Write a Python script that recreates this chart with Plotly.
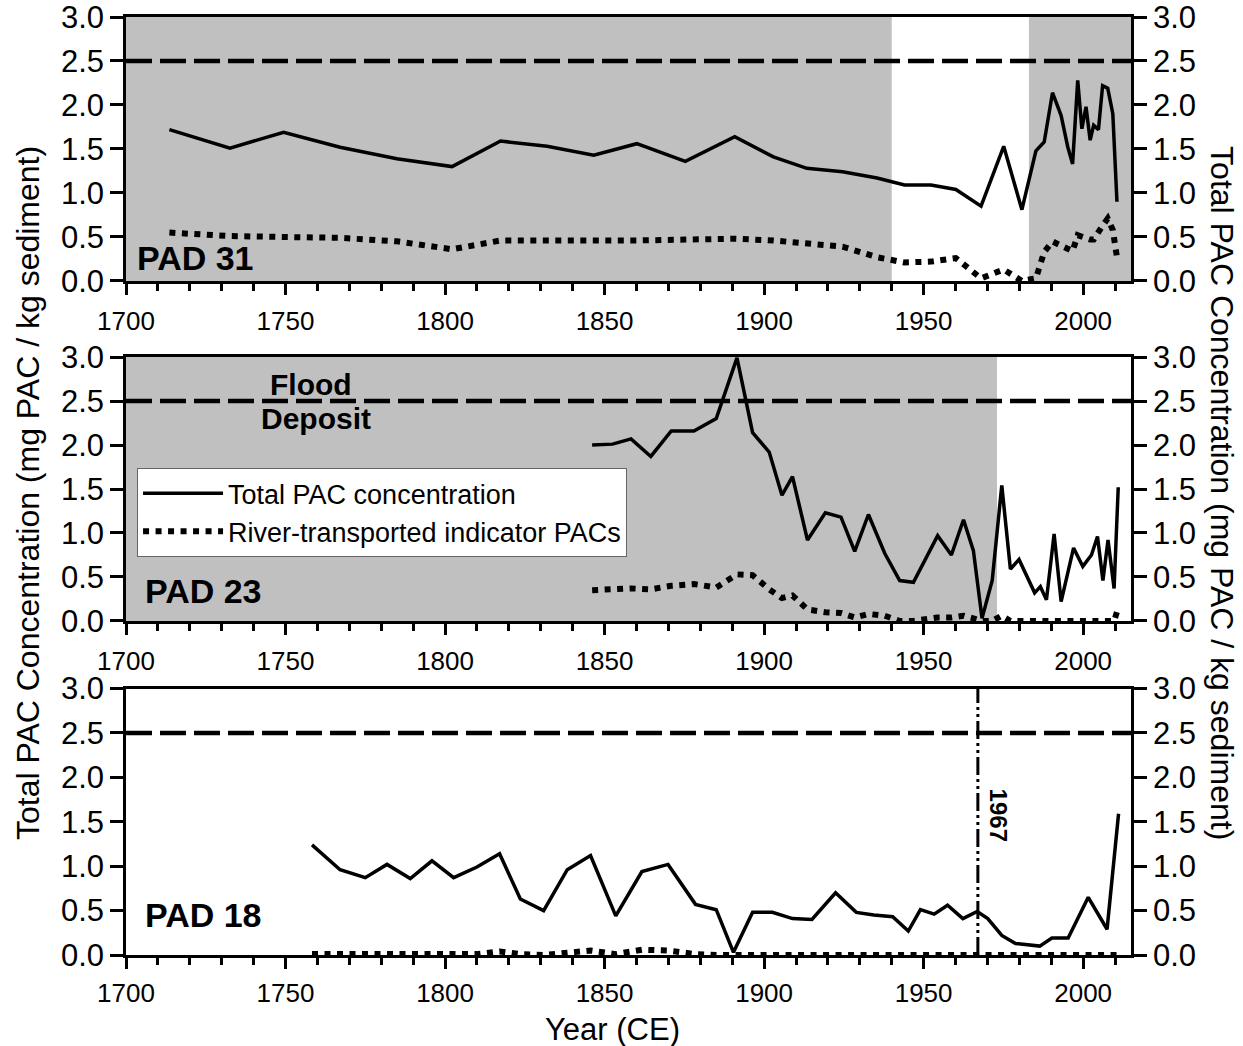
import plotly.graph_objects as go

# ---------------- data ----------------
yr31 = [1713.6, 1732.6, 1749.4, 1767.1, 1784.9, 1802.2, 1817.4, 1832.0, 1846.6, 1860.1,
        1875.3, 1890.8, 1902.9, 1913.4, 1924.6, 1935.4, 1944.0, 1952.3, 1960.1, 1968.0,
        1975.1, 1980.8, 1985.2, 1987.8, 1990.4, 1993.1, 1995.2, 1996.7, 1998.3, 1999.6,
        2000.9, 2002.2, 2003.3, 2004.8, 2006.1, 2007.7, 2009.3, 2010.6]
total31 = [1.72, 1.51, 1.69, 1.52, 1.39, 1.30, 1.59, 1.53, 1.43, 1.56,
           1.36, 1.64, 1.41, 1.28, 1.24, 1.17, 1.09, 1.09, 1.04, 0.85,
           1.53, 0.81, 1.48, 1.58, 2.14, 1.88, 1.52, 1.33, 2.28, 1.73,
           1.98, 1.60, 1.77, 1.72, 2.22, 2.19, 1.90, 0.90]
river31 = [0.55, 0.51, 0.50, 0.49, 0.45, 0.36, 0.46, 0.46, 0.45, 0.46,
           0.47, 0.48, 0.46, 0.43, 0.39, 0.27, 0.21, 0.22, 0.26, 0.03,
           0.13, 0.00, 0.03, 0.33, 0.45, 0.40, 0.36, 0.34, 0.52, 0.50,
           0.48, 0.47, 0.47, 0.57, 0.63, 0.71, 0.58, 0.27]

yr23 = [1846.1, 1852.5, 1858.3, 1864.5, 1870.9, 1878.0, 1885.0, 1891.5, 1896.4, 1901.6,
        1905.6, 1908.9, 1913.6, 1919.2, 1924.1, 1928.4, 1932.7, 1937.8, 1942.5, 1946.8,
        1954.4, 1958.7, 1962.5, 1965.6, 1968.3, 1971.5, 1974.5, 1977.2, 1979.9, 1984.8,
        1986.6, 1988.5, 1990.9, 1993.1, 1997.0, 1999.9, 2002.6, 2004.5, 2006.2, 2007.8,
        2009.7, 2011.0]
total23 = [2.00, 2.01, 2.07, 1.87, 2.16, 2.16, 2.30, 2.99, 2.14, 1.92,
           1.43, 1.64, 0.92, 1.23, 1.18, 0.79, 1.21, 0.77, 0.46, 0.44,
           0.97, 0.75, 1.15, 0.80, 0.03, 0.46, 1.54, 0.59, 0.70, 0.32,
           0.39, 0.24, 0.99, 0.22, 0.83, 0.62, 0.75, 0.96, 0.46, 0.92,
           0.37, 1.52]
river23 = [0.35, 0.36, 0.37, 0.36, 0.40, 0.42, 0.38, 0.53, 0.52, 0.36,
           0.26, 0.29, 0.13, 0.10, 0.09, 0.04, 0.08, 0.06, 0.00, 0.00,
           0.04, 0.04, 0.06, 0.03, 0.00, 0.00, 0.06, 0.00, 0.00, 0.00,
           0.00, 0.00, 0.00, 0.00, 0.00, 0.00, 0.00, 0.00, 0.00, 0.00,
           0.00, 0.15]

yr18 = [1758.3, 1767.1, 1775.0, 1781.8, 1789.1, 1795.9, 1802.7, 1810.0, 1817.1, 1823.6,
        1830.9, 1838.3, 1845.6, 1853.5, 1861.7, 1869.9, 1878.5, 1885.0, 1890.4, 1896.4,
        1902.6, 1908.9, 1915.0, 1922.4, 1928.9, 1934.4, 1940.3, 1945.2, 1949.0, 1953.3,
        1957.5, 1962.3, 1966.8, 1970.1, 1974.5, 1978.8, 1986.4, 1990.2, 1995.3, 2001.6,
        2007.5, 2011.1]
total18 = [1.24, 0.96, 0.87, 1.02, 0.86, 1.06, 0.87, 0.99, 1.14, 0.63,
           0.50, 0.96, 1.12, 0.44, 0.94, 1.02, 0.57, 0.51, 0.03, 0.48,
           0.48, 0.41, 0.40, 0.70, 0.48, 0.45, 0.43, 0.27, 0.51, 0.46,
           0.56, 0.41, 0.49, 0.41, 0.22, 0.13, 0.10, 0.19, 0.19, 0.65,
           0.29, 1.59]
river18 = [0.01, 0.01, 0.01, 0.01, 0.00, 0.01, 0.01, 0.01, 0.04, 0.01,
           0.00, 0.03, 0.05, 0.01, 0.06, 0.05, 0.01, 0.00, 0.00, 0.00,
           0.00, 0.00, 0.00, 0.00, 0.00, 0.00, 0.00, 0.00, 0.00, 0.00,
           0.00, 0.00, 0.00, 0.00, 0.00, 0.00, 0.00, 0.00, 0.00, 0.00,
           0.00, 0.00]

shade31 = [(1700, 1940), (1983, 2015)]
shade23 = [(1700, 1973)]
threshold = 2.5
marker_year18 = 1967
panel_names = ["PAD 31", "PAD 23", "PAD 18"]
series_names = ["Total PAC concentration", "River-transported indicator PACs"]
x_range = [1700, 2015]
y_range = [0, 3]

# ---------------- figure ----------------
FONT = "Liberation Sans, Arial, sans-serif"
fig = go.Figure()

panels = [
    (yr31, total31, river31, "x", "y", "y4"),
    (yr23, total23, river23, "x2", "y2", "y5"),
    (yr18, total18, river18, "x3", "y3", "y6"),
]
SOLID = dict(color="black", width=3.5)
DOTTED = dict(color="black", width=6, dash="6px,6.5px")
for i, (yr, tot, riv, xa, ya, yright) in enumerate(panels):
    fig.add_trace(go.Scatter(x=yr, y=tot, mode="lines", line=SOLID, xaxis=xa, yaxis=ya,
                             name=series_names[0], showlegend=(i == 0)))
    fig.add_trace(go.Scatter(x=yr, y=riv, mode="lines", line=DOTTED, xaxis=xa, yaxis=ya,
                             name=series_names[1], showlegend=(i == 0)))
    # invisible companion trace so the right-hand mirror axis is rendered
    fig.add_trace(go.Scatter(x=yr, y=tot, mode="lines", line=dict(width=0, color="rgba(0,0,0,0)"),
                             xaxis=xa, yaxis=yright, showlegend=False, hoverinfo="skip"))

domains = [[0.7186, 1.0], [0.3561, 0.6375], [0.0, 0.2841]]
axis_common = dict(showline=True, linecolor="black", linewidth=2.5, showgrid=False,
                   zeroline=False, ticks="outside", tickcolor="black", tickwidth=2.5,
                   automargin=False, fixedrange=True, ticklabeloverflow="allow")
YTICKFONT = dict(family=FONT, size=31, color="black")
layout = {}
for i in range(3):
    xn = "xaxis" if i == 0 else f"xaxis{i+1}"
    yn = "yaxis" if i == 0 else f"yaxis{i+1}"
    yr_name = f"yaxis{i+4}"
    ya_ref = "y" if i == 0 else f"y{i+1}"
    xa_ref = "x" if i == 0 else f"x{i+1}"
    layout[xn] = dict(axis_common, anchor=ya_ref, domain=[0, 1], range=x_range,
                      tick0=1700, dtick=50, ticklen=11, mirror=True,
                      ticklabelstandoff=(2 if i == 2 else 4),
                      tickfont=dict(family=FONT, size=26, color="black"),
                      minor=dict(ticks="outside", dtick=10, tick0=1700, ticklen=7,
                                 tickwidth=2.5, tickcolor="black", showgrid=False))
    layout[yn] = dict(axis_common, anchor=xa_ref, domain=domains[i], range=y_range,
                      tick0=0, dtick=0.5, tickformat=".1f", ticklen=13, tickfont=YTICKFONT)
    layout[yr_name] = dict(axis_common, anchor=xa_ref, overlaying=ya_ref, side="right",
                           range=y_range, tick0=0, dtick=0.5, tickformat=".1f", ticklen=13,
                           tickfont=YTICKFONT)

shapes = []
for (a, b) in shade31:
    shapes.append(dict(type="rect", xref="x", yref="y domain", x0=a, x1=b, y0=0, y1=1,
                       fillcolor="#c0c0c0", line=dict(width=0), layer="below"))
for (a, b) in shade23:
    shapes.append(dict(type="rect", xref="x2", yref="y2 domain", x0=a, x1=b, y0=0, y1=1,
                       fillcolor="#c0c0c0", line=dict(width=0), layer="below"))
for xr, yrf in [("x domain", "y"), ("x2 domain", "y2"), ("x3 domain", "y3")]:
    shapes.append(dict(type="line", xref=xr, yref=yrf, x0=0, x1=1, y0=threshold, y1=threshold,
                       line=dict(color="black", width=4.5, dash="26px,8px")))
shapes.append(dict(type="line", xref="x3", yref="y3 domain", x0=marker_year18, x1=marker_year18,
                   y0=0, y1=1, line=dict(color="black", width=3, dash="18px,4px,3px,4px,3px,4px")))

annotations = [
    dict(text="<b>PAD 31</b>", xref="x", yref="y", x=1702.8, y=0.26, xanchor="left",
         yanchor="middle", showarrow=False, font=dict(family=FONT, size=34, color="black")),
    dict(text="<b>PAD 23</b>", xref="x2", yref="y2", x=1705.3, y=0.34, xanchor="left",
         yanchor="middle", showarrow=False, font=dict(family=FONT, size=34, color="black")),
    dict(text="<b>PAD 18</b>", xref="x3", yref="y3", x=1705.3, y=0.45, xanchor="left",
         yanchor="middle", showarrow=False, font=dict(family=FONT, size=34, color="black")),
    dict(text="<b>Flood</b>", xref="x2", yref="y2", x=1758, y=2.69, xanchor="center",
         yanchor="middle", showarrow=False, font=dict(family=FONT, size=30, color="black")),
    dict(text="<b>Deposit</b>", xref="x2", yref="y2", x=1759.5, y=2.30, xanchor="center",
         yanchor="middle", showarrow=False, font=dict(family=FONT, size=30, color="black")),
    dict(text="<b>1967</b>", xref="x3", yref="y3", x=1973.6, y=1.57, xanchor="center",
         yanchor="middle", textangle=90, showarrow=False,
         font=dict(family=FONT, size=24, color="black")),
    dict(text="Total PAC Concentration (mg PAC / kg sediment)", xref="paper", yref="paper",
         x=-0.0975, y=0.4925, textangle=-90, showarrow=False, xanchor="center", yanchor="middle",
         font=dict(family=FONT, size=32, color="black")),
    dict(text="Total PAC Concentration (mg PAC / kg sediment)", xref="paper", yref="paper",
         x=1.0905, y=0.4925, textangle=90, showarrow=False, xanchor="center", yanchor="middle",
         font=dict(family=FONT, size=32, color="black")),
    dict(text="Year (CE)", xref="paper", yref="paper", x=0.4836, y=-0.0790, showarrow=False,
         xanchor="center", yanchor="middle", font=dict(family=FONT, size=31, color="black")),
]

fig.update_layout(
    template="none",
    width=1243, height=1046,
    margin=dict(l=126, r=112, t=17, b=91, autoexpand=False),
    plot_bgcolor="white", paper_bgcolor="white",
    font=dict(family=FONT, color="black"),
    shapes=shapes, annotations=annotations,
    legend=dict(x=0.011, y=0.519, xanchor="left", yanchor="top", bgcolor="white",
                bordercolor="#666666", borderwidth=1, itemwidth=80, tracegroupgap=0,
                font=dict(family=FONT, size=27, color="black")),
    **layout,
)

fig.write_html("out.html")
